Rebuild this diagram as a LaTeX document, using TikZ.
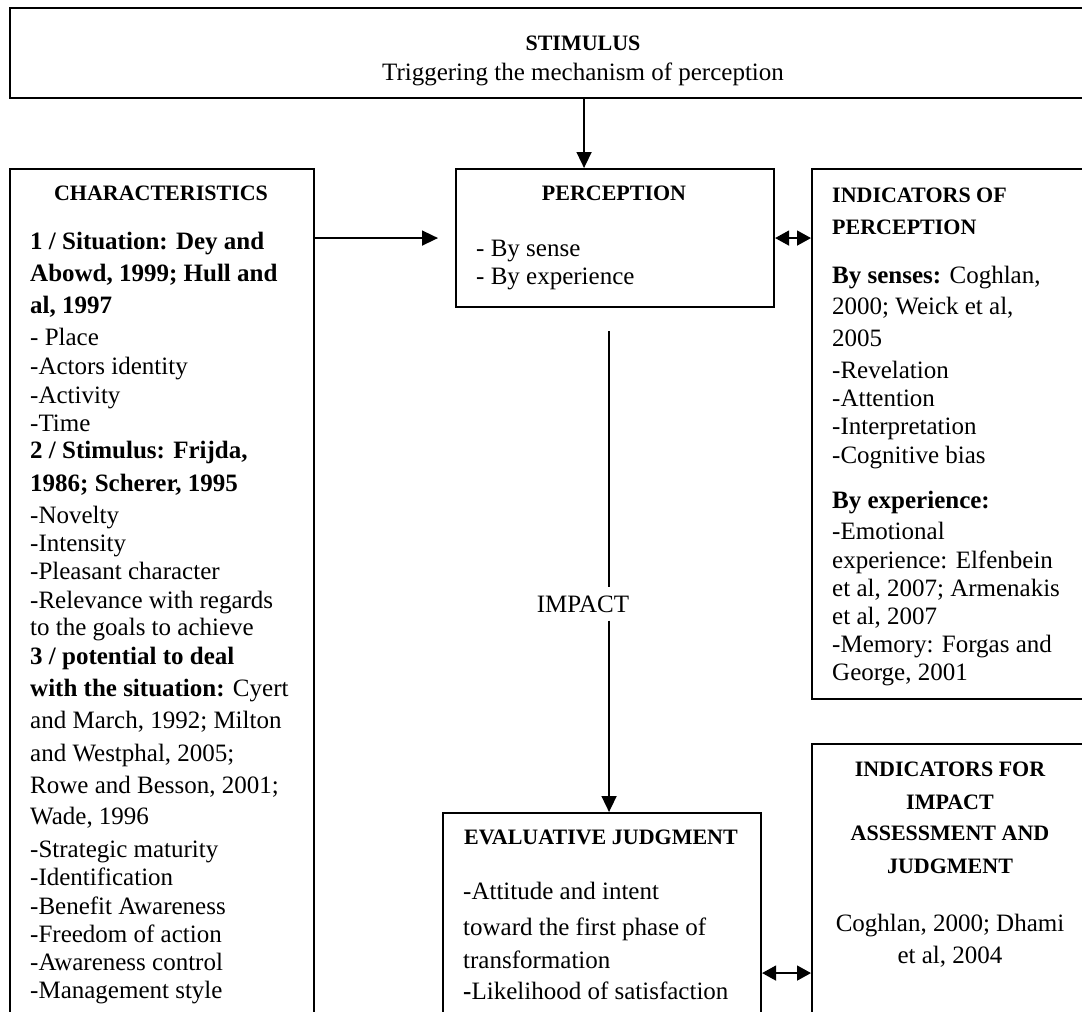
\documentclass[tikz,border=0pt]{standalone}
\usepackage{fontspec}
\setmainfont{Liberation Serif}
\usetikzlibrary{arrows.meta,calc}
\newcommand\BodyFnt{\fontsize{25pt}{30pt}\selectfont}
\newcommand\HeadFnt{\fontsize{22pt}{26pt}\selectfont\bfseries}
\newcommand\Ln[4]{\node[txt,anchor=base west] (#1) at (#2,#3) {#4};}
\newcommand\Hc[4]{\node[hd,anchor=base] (#1) at (#2,#3) {#4};}
\newcommand\Bc[4]{\node[txt,anchor=base] (#1) at (#2,#3) {#4};}
\begin{document}
\begin{tikzpicture}[x=1pt,y=-1pt,
  box/.style={draw,line width=2.1pt,inner sep=0pt,anchor=north west},
  txt/.style={inner sep=0pt,font=\BodyFnt},
  hd/.style={inner sep=0pt,font=\HeadFnt},
  arr/.style={-{Triangle[length=16pt,width=15pt]},line width=1.6pt},
  darr/.style={{Triangle[length=14pt,width=15pt]}-{Triangle[length=14pt,width=15pt]},line width=1.6pt}]
\useasboundingbox (0,0) rectangle (1082,1012);
\fill[white] (0,0) rectangle (1082,1012);
\clip (0,0) rectangle (1082,1012);
% boxes
\node[box,minimum width=1148pt,minimum height=90pt] (stim) at (9,7) {};
\node[box,minimum width=304pt,minimum height=932pt] (char) at (9,168) {};
\node[box,minimum width=318pt,minimum height=138pt] (perc) at (455,168) {};
\node[box,minimum width=278pt,minimum height=530pt] (indper) at (811,168) {};
\node[box,minimum width=318pt,minimum height=320pt] (eval) at (442,812) {};
\node[box,minimum width=278pt,minimum height=458pt] (impact) at (811,743) {};
% stimulus
\Hc{st1}{583}{50}{STIMULUS}
\Bc{st2}{583}{80}{Triggering the mechanism of perception}
% characteristics
\Hc{ch0}{161}{200}{CHARACTERISTICS}
\Ln{c1}{30}{249}{\textbf{1 / Situation: Dey and}}
\Ln{c2}{30}{281}{\textbf{Abowd, 1999; Hull and}}
\Ln{c3}{30}{313}{\textbf{al, 1997}}
\Ln{c4}{30}{345}{- Place}
\Ln{c5}{30}{374}{-Actors identity}
\Ln{c6}{30}{403}{-Activity}
\Ln{c7}{30}{431}{-Time}
\Ln{c8}{30}{458}{\textbf{2 / Stimulus: Frijda,}}
\Ln{c9}{30}{491}{\textbf{1986; Scherer, 1995}}
\Ln{c10}{30}{523}{-Novelty}
\Ln{c11}{30}{551}{-Intensity}
\Ln{c12}{30}{579}{-Pleasant character}
\Ln{c13}{30}{608}{-Relevance with regards}
\Ln{c14}{30}{635}{to the goals to achieve}
\Ln{c15}{30}{664}{\textbf{3 / potential to deal}}
\Ln{c16}{30}{696}{\textbf{with the situation:} Cyert}
\Ln{c17}{30}{728}{and March, 1992; Milton}
\Ln{c18}{30}{761}{and Westphal, 2005;}
\Ln{c19}{30}{793}{Rowe and Besson, 2001;}
\Ln{c20}{30}{824}{Wade, 1996}
\Ln{c21}{30}{857}{-Strategic maturity}
\Ln{c22}{30}{885}{-Identification}
\Ln{c23}{30}{914}{-Benefit Awareness}
\Ln{c24}{30}{942}{-Freedom of action}
\Ln{c25}{30}{970}{-Awareness control}
\Ln{c26}{30}{998}{-Management style}
% perception
\Hc{p0}{614}{200}{PERCEPTION}
\Ln{p1}{476}{256}{- By sense}
\Ln{p2}{476}{284}{- By experience}
% indicators of perception
\node[hd,anchor=base west] (i1) at (832,202) {INDICATORS OF};
\node[hd,anchor=base west] (i2) at (832,234) {PERCEPTION};
\Ln{i3}{832}{283}{\textbf{By senses:} Coghlan,}
\Ln{i4}{832}{314}{2000; Weick et al,}
\Ln{i5}{832}{346}{2005}
\Ln{i6}{832}{378}{-Revelation}
\Ln{i7}{832}{406}{-Attention}
\Ln{i8}{832}{434}{-Interpretation}
\Ln{i9}{832}{463}{-Cognitive bias}
\Ln{i10}{832}{508}{\textbf{By experience:}}
\Ln{i11}{832}{539}{-Emotional}
\Ln{i12}{832}{568}{experience: Elfenbein}
\Ln{i13}{832}{596}{et al, 2007; Armenakis}
\Ln{i14}{832}{624}{et al, 2007}
\Ln{i15}{832}{652}{-Memory: Forgas and}
\Ln{i16}{832}{680}{George, 2001}
% evaluative judgment
\Hc{e0}{601}{844}{EVALUATIVE JUDGMENT}
\Ln{e1}{463}{899}{-Attitude and intent}
\Ln{e2}{463}{935}{toward the first phase of}
\Ln{e3}{463}{968}{transformation}
\Ln{e4}{463}{999}{\textbf{-}Likelihood of satisfaction}
% indicators for impact
\Hc{m1}{950}{776}{INDICATORS FOR}
\Hc{m2}{950}{809}{IMPACT}
\Hc{m3}{950}{840}{ASSESSMENT AND}
\Hc{m4}{950}{873}{JUDGMENT}
\Bc{m5}{950}{931}{Coghlan, 2000; Dhami}
\Bc{m6}{950}{963}{et al, 2004}
% impact label
\node[txt,inner ysep=8pt,text height=17pt,text depth=0pt] (lbl) at (583,604) {IMPACT};
% connectors
\draw[arr] (stim.south) -- (stim.south |- perc.north);
\draw[arr,shorten >=17pt] (char.east |- perc.west) -- (perc.west);
\draw[darr] (perc.east) -- (perc.east -| indper.west);
\draw[darr] (eval.east) -- (impact.west);
\coordinate (vtop) at ($(perc.south)+(-6,23)$);
\draw[line width=1.6pt] (vtop) -- (vtop |- lbl.north);
\draw[arr] (vtop |- lbl.south) -- (vtop |- eval.north);
\end{tikzpicture}
\end{document}
